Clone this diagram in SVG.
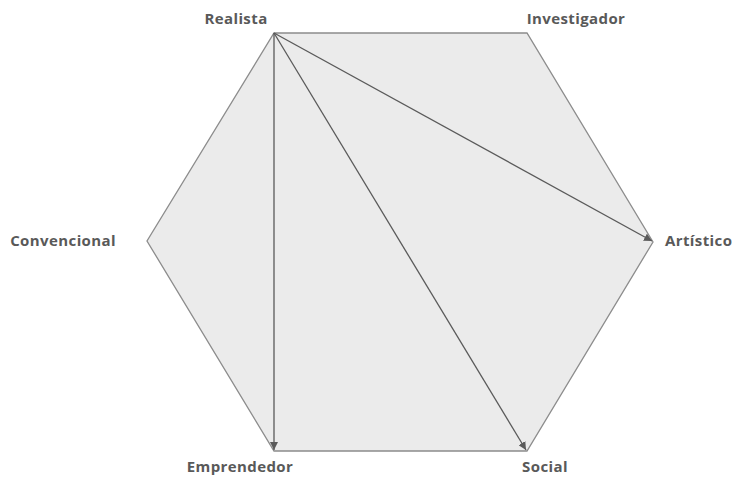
<svg xmlns="http://www.w3.org/2000/svg" width="733" height="477" viewBox="0 0 733 477">
<style>
.lbl{font-family:"Open Sans","Liberation Sans",sans-serif;font-weight:bold;font-size:15px;fill:#595959;letter-spacing:0.4px}
.hex{fill:#ebebeb;stroke:#8c8c8c;stroke-width:1.3}
.arr{stroke:#5a5a5a;stroke-width:1.3;fill:none;marker-end:url(#ah)}
</style>
<defs>
<marker id="ah" viewBox="0 0 10 10" refX="10" refY="5" markerWidth="8" markerHeight="8" markerUnits="userSpaceOnUse" orient="auto">
<path d="M0,0 L10,5 L0,10 z" fill="#5a5a5a"/>
</marker>
</defs>
<g id="hexagon"><polygon class="hex" points="274,33 527,33 653,242 527,451 274,451 147,241"/></g>
<g id="connectors">
<line class="arr" x1="274" y1="33" x2="652" y2="241"/>
<line class="arr" x1="274" y1="33" x2="526" y2="450"/>
<line class="arr" x1="274" y1="33" x2="274" y2="450"/>
</g>
<g id="n-realista"><text class="lbl" x="236" y="24" text-anchor="middle">Realista</text></g>
<g id="n-investigador"><text class="lbl" x="576" y="24" text-anchor="middle">Investigador</text></g>
<g id="n-artistico"><text class="lbl" x="665" y="246">Artístico</text></g>
<g id="n-convencional"><text class="lbl" x="116" y="246" text-anchor="end">Convencional</text></g>
<g id="n-emprendedor"><text class="lbl" x="240" y="472" text-anchor="middle">Emprendedor</text></g>
<g id="n-social"><text class="lbl" x="545" y="472" text-anchor="middle">Social</text></g>
</svg>
